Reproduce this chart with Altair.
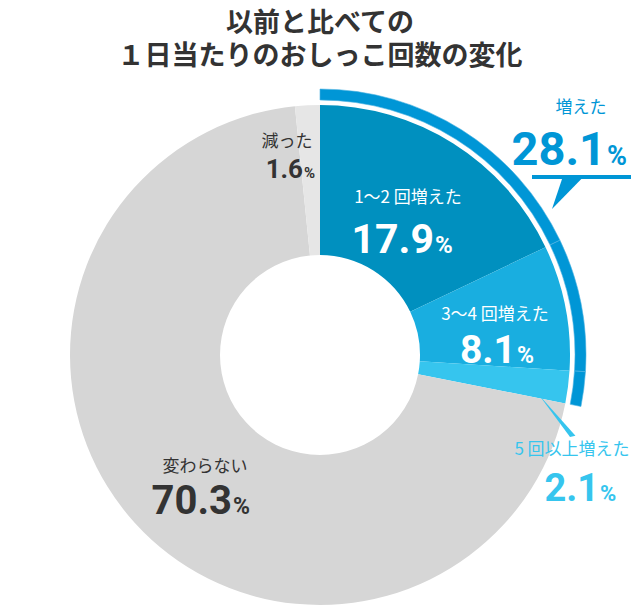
import altair as alt
import pandas as pd

# ---- data ----
categories = ["1〜2 回増えた", "3〜4 回増えた", "5 回以上増えた", "変わらない", "減った"]
values = [17.9, 8.1, 2.1, 70.3, 1.6]
slice_colors = ["#0090BF", "#19AEE0", "#36C5EE", "#D6D6D6", "#E6E6E6"]
increased_label = "増えた"
increased_total = 28.1
title_lines = ["以前と比べての", "１日当たりのおしっこ回数の変化"]

JP = "Noto Sans CJK JP"
NUM = "Roboto"
RING = "#0096D6"
DARK = "#333333"

CX, CY = 320, 355  # page coords of the pie centre
OFF = 8


def txt(text, x, y, size, color, align="center", weight="normal", font=JP):
    return alt.Chart(pd.DataFrame({"t": [text]})).mark_text(
        align=align, baseline="alphabetic", fontSize=size, color=color,
        fontWeight=weight, font=font
    ).encode(x=alt.value(x - OFF), y=alt.value(y - OFF), text="t:N")


def number(value, x, y, size, color):
    s = f"{value:.1f}"
    return [
        txt(s, x, y, size, color, align="right", weight="bold", font=NUM),
        txt("%", x + 1, y, round(size * 0.58), color, align="left", weight="bold", font=NUM),
    ]


def shape(path, x, y, size, color):
    return alt.Chart(pd.DataFrame({"a": [0]})).mark_point(
        shape=path, size=size, filled=True, color=color, opacity=1, strokeWidth=0
    ).encode(x=alt.value(x - OFF), y=alt.value(y - OFF))


pie_df = pd.DataFrame({"cat": categories, "val": values, "order": list(range(len(values)))})
theta_scale = alt.Scale(domain=[0, 100])

pie = alt.Chart(pie_df).mark_arc(radius=250, innerRadius=100).encode(
    theta=alt.Theta("val:Q", stack=True, scale=theta_scale),
    color=alt.Color("cat:N", scale=alt.Scale(domain=categories, range=slice_colors), legend=None),
    order=alt.Order("order:Q"),
    x=alt.value(CX - OFF), y=alt.value(CY - OFF),
)

ring_df = pie_df.iloc[:3]
ring = alt.Chart(ring_df).mark_arc(radius=266, innerRadius=255, color=RING,
                                   stroke="#4fb3e3", strokeWidth=0.6).encode(
    theta=alt.Theta("val:Q", stack=True, scale=theta_scale),
    order=alt.Order("order:Q"),
    x=alt.value(CX - OFF), y=alt.value(CY - OFF),
)

# callout for 増えた
callout_rule = alt.Chart(pd.DataFrame({"a": [0]})).mark_rule(color=RING, strokeWidth=4).encode(
    x=alt.value(532 - OFF), x2=alt.value(631 - OFF), y=alt.value(177 - OFF)
)
tri1 = shape("M -0.44 -1.05 L 0.875 -1.05 L -1.125 1 Z", 570, 193, 1024, RING)
tri2 = shape("M -0.857 -1 L 0.62 1 L 0.88 0.94 Z", 557, 416, 1764, slice_colors[2])

layers = [pie, ring, callout_rule, tri1, tri2]

# title
layers.append(txt(title_lines[0], 320, 32, 27, DARK, weight="bold"))
layers.append(txt(title_lines[1], 320, 65, 27, DARK, weight="bold"))

# labels
layers.append(txt(increased_label, 581, 113, 17, RING))
layers += number(increased_total, 606, 165, 47, RING)

layers.append(txt(categories[0], 408, 203, 17, "white"))
layers += number(values[0], 434, 253, 41, "white")

layers.append(txt(categories[1], 495, 320, 17, "white"))
layers += number(values[1], 516, 363, 39, "white")

layers.append(txt(categories[2], 572, 455, 17, slice_colors[2]))
layers += number(values[2], 599, 501, 38, slice_colors[2])

layers.append(txt(categories[4], 287, 147, 17, DARK))
layers += number(values[4], 303, 178, 26, DARK)

layers.append(txt(categories[3], 205, 472, 17, DARK))
layers += number(values[3], 232, 514, 40, DARK)

chart = alt.layer(*layers).properties(
    width=624, height=598, autosize=alt.AutoSizeParams(type="none"), padding=0,
    background="white"
).configure_view(stroke=None)

chart.save("out.html", embed_options={"renderer": "svg", "actions": False})
